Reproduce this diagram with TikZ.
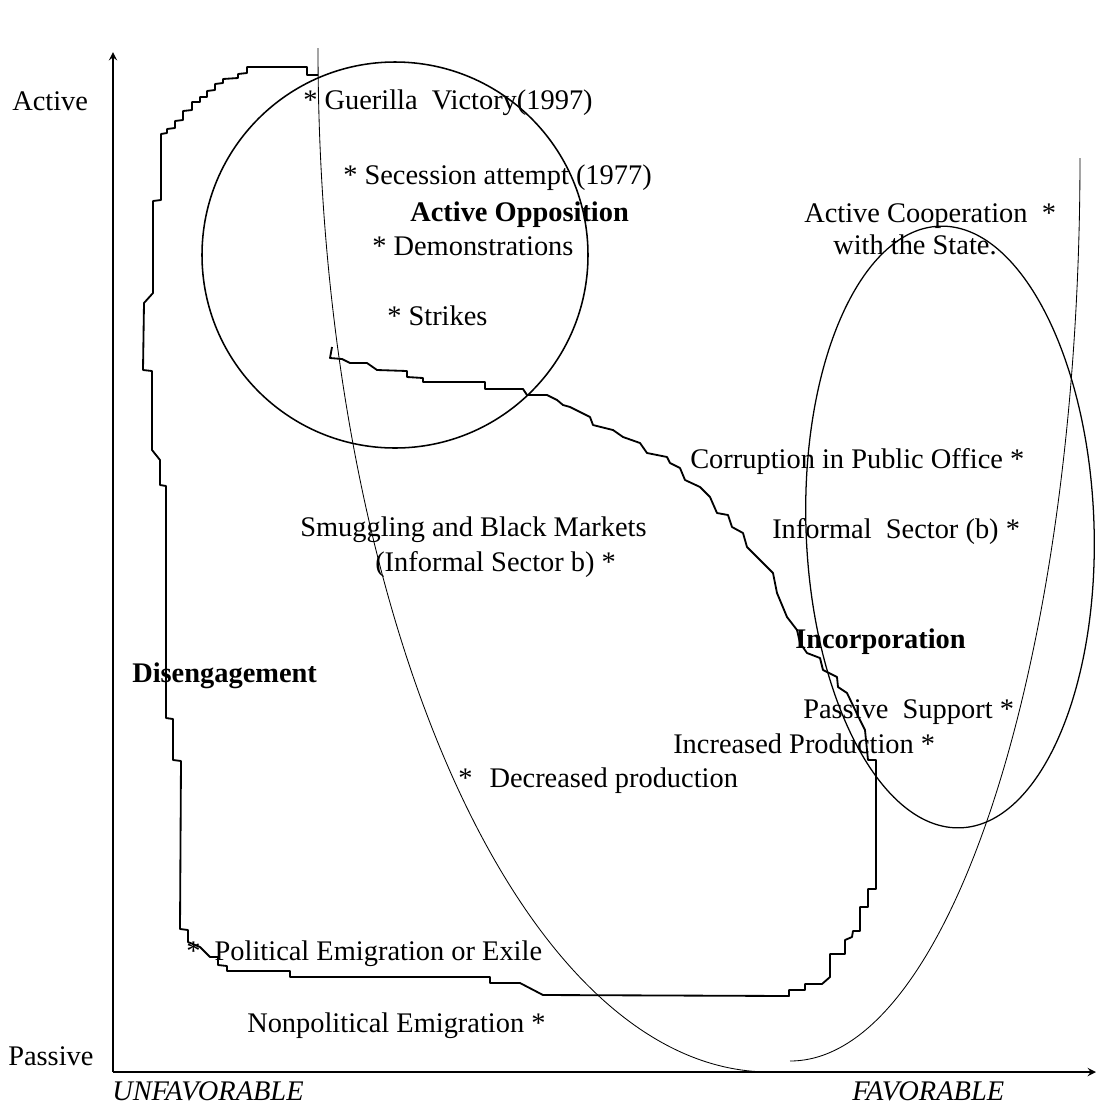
\documentclass[tikz,border=0pt]{standalone}
\usepackage{fontspec}
\setmainfont{Liberation Serif}
\tikzset{
  lbl/.style={font=\fontsize{20.2}{24}\selectfont, inner sep=0pt, anchor=base west},
  zone/.style={lbl, font=\fontsize{20.2}{24}\selectfont\bfseries},
  axislbl/.style={lbl, font=\fontsize{20.2}{24}\selectfont\itshape},
}
\begin{document}
\begin{tikzpicture}[x=0.025cm,y=-0.025cm]
    \useasboundingbox (0,0) rectangle (1096,1107);
    \coordinate (origin) at (113,1072);
    \coordinate (ytip) at (113,52);
    \coordinate (xtip) at (1096,1072);
    \draw[line width=1.6pt,-stealth] (origin)--(ytip);
    \draw[line width=1.6pt,-stealth] (origin)--(xtip);
    \node[lbl] (active) at (12,110) {Active};
    \node[lbl] (passive) at (8,1065) {Passive};
    \node[axislbl] (unfav) at (112,1100) {UNFAVORABLE};
    \node[axislbl] (fav) at (852,1100) {FAVORABLE};
    % disengagement outline
    \draw[line width=1.3pt,line join=round] (318,75)--(307,75)--(307,67)--(247,67)--(247,73)--(238,74)--(238,78)--(223,79)
        --(223,83)--(215,84)--(215,90)--(207,91)--(207,97)--(200,97)--(200,102)--(192,102)--(192,110)--(183,111)
        --(183,120)--(175,121)--(175,128)--(167,129)--(167,133)--(161,134)--(161,200)--(153,201)--(153,293)
        --(144,303)--(143,370)--(152,371)--(152,450)--(160,460)--(160,485)--(166,486)--(166,718)--(173,719)
        --(173,760)--(181,761)--(180,929)--(188,930)--(188,942)--(200,947)--(210,957)--(218,957)--(218,965)
        --(227,966)--(227,971)--(290,971)--(290,977)--(490,977)--(490,983)--(520,983)--(543,995)--(789,996)
        --(789,990)--(805,990)--(805,984)--(822,984)--(830,977)--(830,954)--(845,954)--(845,940)--(852,937)
        --(853,931)--(860,931)--(860,907)--(868,907)--(868,889)--(876,889)--(876,760)--(868,760)--(865,730)
        --(860,720)--(847,693)--(838,687)--(837,677)--(823,670)--(820,658)--(807,653)--(800,643)--(797,630)
        --(787,617)--(777,593)--(773,573)--(760,560)--(747,547)--(743,533)--(732,527)--(728,515)--(717,513)
        --(710,497)--(700,487)--(685,480)--(680,468)--(670,463)--(667,457)--(647,453)--(640,443)--(623,437)
        --(613,430)--(593,425)--(590,417)--(570,407)--(563,405)--(557,400)--(547,395)--(527,395)--(523,389)
        --(485,389)--(485,382)--(423,382)--(423,378)--(407,377)--(407,371)--(377,370)--(367,363)--(350,363)
        --(342,359)--(330,358)--(332,347);
    % regions
    \coordinate (opp) at (395,255);
    \coordinate (inc) at (950,527);
    \draw[line width=1.1pt] (opp) circle[radius=193];
    \draw[line width=0.9pt,rotate around={2:(inc)}] (inc) ellipse[x radius=144,y radius=301];
    \draw[line width=0.6pt] (318,48) arc[start angle=180,end angle=90,x radius=452,y radius=1024];
    \draw[line width=0.6pt] (1080,158) arc[start angle=0,end angle=90,x radius=290,y radius=903];
    \node[lbl] (guerilla) at (303,109) {* Guerilla\ \ Victory(1997)};
    \node[lbl] (secession) at (343,184) {* Secession attempt (1977)};
    \node[zone] (opposition) at (410,221) {Active Opposition};
    \node[lbl] (demo) at (372,255) {* Demonstrations};
    \node[lbl] (strikes) at (387,325) {* Strikes};
    \node[lbl] (coop) at (804,222) {Active Cooperation\ \ *};
    \node[lbl] (state) at (833,254) {with the State.};
    \node[lbl] (corrupt) at (690,468) {Corruption in Public Office *};
    \node[lbl] (informal) at (772,538) {Informal\ \ Sector (b) *};
    \node[lbl] (smuggle) at (300,536) {Smuggling and Black Markets};
    \node[lbl] (smuggleb) at (375,571) {(Informal Sector b) *};
    \node[zone] (incorp) at (795,648) {Incorporation};
    \node[zone] (diseng) at (132,682) {Disengagement};
    \node[lbl] (support) at (803,718) {Passive\ \ Support *};
    \node[lbl] (incprod) at (673,753) {Increased Production *};
    \node[lbl] (decprod) at (458,787) {*\hspace{0.6em}Decreased production};
    \node[lbl] (exile) at (186,960) {*\hspace{0.5em}Political Emigration or Exile};
    \node[lbl] (emig) at (247,1032) {Nonpolitical Emigration *};
\end{tikzpicture}
\end{document}
